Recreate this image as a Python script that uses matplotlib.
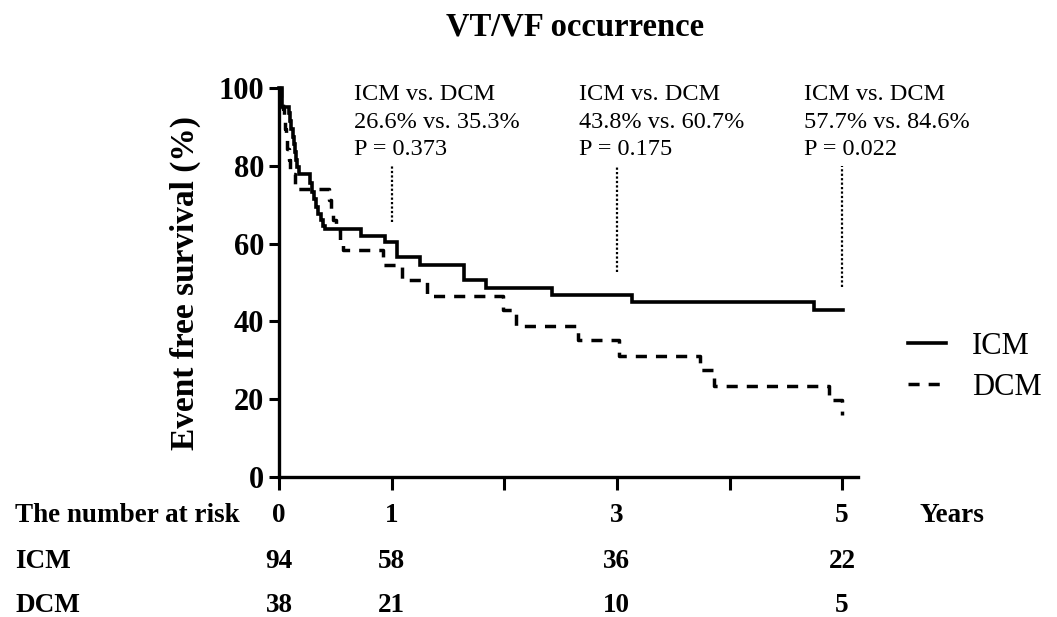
import matplotlib
matplotlib.use("Agg")
import matplotlib.pyplot as plt

# ---- data ----
icm_t = [0, 0.03, 0.09, 0.10, 0.11, 0.12, 0.13, 0.14, 0.15, 0.16,
         0.18, 0.275, 0.29, 0.31, 0.33, 0.35, 0.37, 0.39, 0.41,
         0.73, 0.94, 1.045, 1.25, 1.64, 1.84, 2.42, 3.13, 4.75, 5.01]
icm_s = [100, 95.2, 93.5, 91.5, 89.5, 87.5, 85.5, 83.5, 81.5, 79.8,
         78.0, 75.5, 73.3, 71.5, 69.5, 67.5, 66.0, 64.5, 63.8,
         62.0, 60.3, 56.5, 54.5, 50.6, 48.5, 46.8, 44.9, 42.9, 42.9]

dcm_t = [0, 0.02, 0.035, 0.045, 0.055, 0.065, 0.075, 0.085, 0.10, 0.14,
         0.44, 0.46, 0.48, 0.51, 0.54, 0.57,
         0.92, 1.09, 1.31, 1.99, 2.10, 2.65, 3.02, 3.74, 3.86, 4.88, 5.0]
dcm_s = [100, 97.4, 94.7, 92.1, 89.5, 86.8, 84.2, 81.6, 78.0, 74.0,
         71.3, 68.7, 66.0, 63.5, 61.0, 58.4,
         54.5, 50.6, 46.6, 42.9, 38.9, 35.2, 31.1, 27.5, 23.4, 19.8, 15.9]

risk_years = [0, 1, 3, 5]
risk_icm = [94, 58, 36, 22]
risk_dcm = [38, 21, 10, 5]

annot_years = [1, 3, 5]
annot_text = ["ICM vs. DCM\n26.6% vs. 35.3%\nP = 0.373",
              "ICM vs. DCM\n43.8% vs. 60.7%\nP = 0.175",
              "ICM vs. DCM\n57.7% vs. 84.6%\nP = 0.022"]
annot_line_bottom = [65.5, 52.7, 48.8]

y_ticks = [0, 20, 40, 60, 80, 100]
x_ticks = [0, 1, 2, 3, 4, 5]

plt.rcParams['font.family'] = ['Liberation Serif', 'DejaVu Serif']

W, H = 1057, 617
fig = plt.figure(figsize=(W / 100, H / 100), dpi=100)
ax = fig.add_axes([279 / W, 1 - 477 / H, (858 - 279) / W, (477 - 88) / H])
ax.set_xlim(0, 5.14)
ax.set_ylim(0, 100)

ax.plot(icm_t, icm_s, drawstyle='steps-post', color='black', lw=2.6,
        solid_joinstyle='miter', label='ICM', clip_on=False)
ax.plot(dcm_t, dcm_s, drawstyle='steps-post', color='black', lw=2.5,
        linestyle=(0, (3.2, 2.6)), label='DCM', clip_on=False)

for yr, txt, yb in zip(annot_years, annot_text, annot_line_bottom):
    ax.plot([yr, yr], [yb, 80], color='black', lw=1.6, linestyle=(0, (1, 1)))
    ax.text(yr - 0.335, 101.0, txt, ha='left', va='top', fontsize=17.5,
            linespacing=1.4, clip_on=False)

for s in ['top', 'right']:
    ax.spines[s].set_visible(False)
for s in ['left', 'bottom']:
    ax.spines[s].set_linewidth(2.4)
ax.set_yticks(y_ticks)
ax.set_yticklabels([str(v) for v in y_ticks], fontsize=22, fontweight='bold')
ax.set_xticks(x_ticks)
ax.set_xticklabels([])
ax.tick_params(axis='both', direction='out', width=2.2, length=7)
ax.tick_params(axis='x', length=9)
ax.set_ylabel('Event free survival (%)', fontsize=24, fontweight='bold', labelpad=13)

fig.text(575 / W, 1 - 27 / H, 'VT/VF occurrence', ha='center', va='center',
         fontsize=23.5, fontweight='bold')

# legend
leg = ax.legend(loc='upper left', bbox_to_anchor=(880 / W, 1 - 304 / H),
                bbox_transform=fig.transFigure, frameon=False, fontsize=22,
                handlelength=1.25, handletextpad=0.85, labelspacing=0.4)

# risk table
row_y = [516, 562, 606]
fs = 19.5
fig.text(15 / W, 1 - row_y[0] / H, 'The number at risk', ha='left', va='center',
         fontsize=fs, fontweight='bold')
fig.text(15 / W, 1 - row_y[1] / H, 'ICM', ha='left', va='center',
         fontsize=fs, fontweight='bold')
fig.text(15 / W, 1 - row_y[2] / H, 'DCM', ha='left', va='center',
         fontsize=fs, fontweight='bold')
fig.text(920 / W, 1 - row_y[0] / H, 'Years', ha='left', va='center',
         fontsize=fs, fontweight='bold')
for yr, a, b in zip(risk_years, risk_icm, risk_dcm):
    xf = (279 + yr * (842 - 279) / 5) / W
    fig.text(xf, 1 - row_y[0] / H, str(yr), ha='center', va='center',
             fontsize=fs, fontweight='bold')
    fig.text(xf, 1 - row_y[1] / H, str(a), ha='center', va='center',
             fontsize=fs, fontweight='bold')
    fig.text(xf, 1 - row_y[2] / H, str(b), ha='center', va='center',
             fontsize=fs, fontweight='bold')

fig.savefig('out.png', dpi=100)
